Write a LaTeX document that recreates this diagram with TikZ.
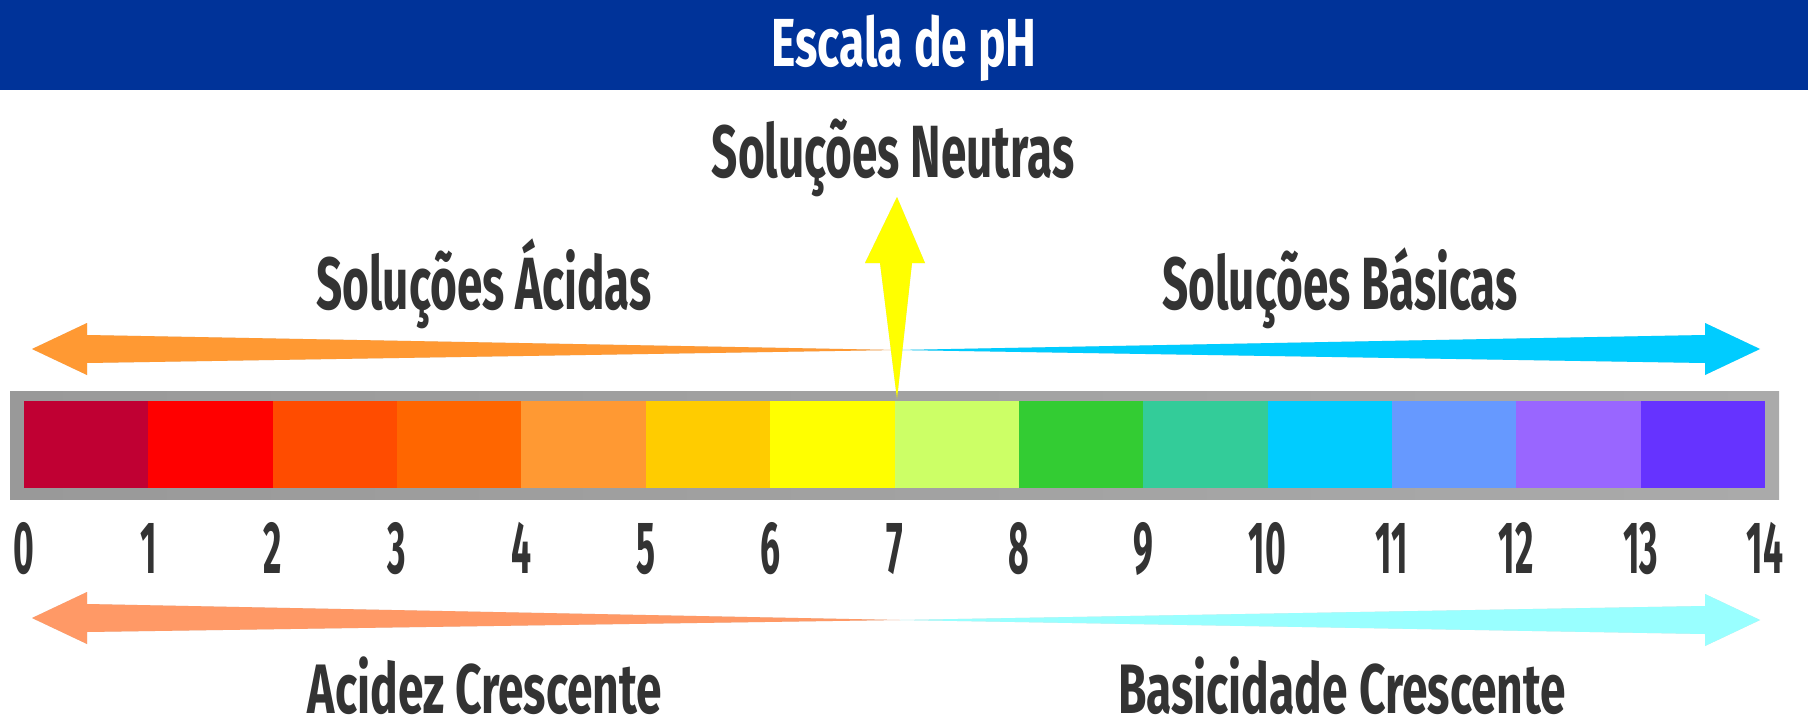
\documentclass[tikz,border=0pt]{standalone}
\usepackage{fontspec}
\setmainfont{Fira Sans}[FakeStretch=0.62]
\newfontfamily\titlefont{Fira Sans}[FakeStretch=0.68]
\newfontfamily\lowfont{Fira Sans}[FakeStretch=0.66]
\newfontfamily\numfont{Fira Sans}[FakeStretch=0.48]
\usetikzlibrary{calc}

\definecolor{headblue}{HTML}{003399}
\definecolor{txtgray}{HTML}{333333}
\definecolor{acidtop}{HTML}{FF9933}
\definecolor{basetop}{HTML}{00CCFF}
\definecolor{acidbot}{HTML}{FF9966}
\definecolor{basebot}{HTML}{99FFFF}
\definecolor{neutral}{HTML}{FFFF00}
\definecolor{framel}{HTML}{999999}
\definecolor{framem}{HTML}{96BEC0}
\definecolor{framer}{HTML}{AAAAAA}
% pH colours, 0 to 13
\definecolor{ph0}{HTML}{C00033}
\definecolor{ph1}{HTML}{FF0000}
\definecolor{ph2}{HTML}{FF4C00}
\definecolor{ph3}{HTML}{FF6600}
\definecolor{ph4}{HTML}{FF9933}
\definecolor{ph5}{HTML}{FFCC00}
\definecolor{ph6}{HTML}{FFFF00}
\definecolor{ph7}{HTML}{CCFF66}
\definecolor{ph8}{HTML}{33CC33}
\definecolor{ph9}{HTML}{33CC99}
\definecolor{ph10}{HTML}{00CCFF}
\definecolor{ph11}{HTML}{6699FF}
\definecolor{ph12}{HTML}{9966FF}
\definecolor{ph13}{HTML}{6633FF}

% tip, meeting point, signed head length, style
\newcommand{\sidearrow}[4]{%
  \fill[#4] (#1) -- ($(#1)+(#3,-26)$) -- ($(#1)+(#3,-14)$) -- (#2)
    -- ($(#1)+(#3,14)$) -- ($(#1)+(#3,26)$) -- cycle;}

\begin{document}
\begin{tikzpicture}[x=1pt,y=-1pt,
    every node/.style={inner sep=0pt,text=txtgray},
    phlabel/.style={anchor=base,font=\fontsize{74}{74}\selectfont\bfseries},
    lowlabel/.style={anchor=base,font=\lowfont\fontsize{70}{70}\selectfont\bfseries},
    phnum/.style={anchor=base,font=\numfont\fontsize{74}{74}\selectfont\bfseries},
    cell/.style={minimum width=124.36pt,minimum height=87pt},
    shadow/.style={fill=black,opacity=.13,shift={(3,7)}}]

\useasboundingbox[fill=white] (0,0) rectangle (1808,728);

% header
\fill[headblue] (0,0) rectangle (1808,90);
\node[anchor=base,text=white,font=\titlefont\fontsize{68}{68}\selectfont\bfseries]
    (title) at (904,66) {Escala de pH};

% labels
\node[phlabel] (neutral) at (893,177) {Soluções Neutras};
\node[phlabel] (acids) at (484,309) {Soluções Ácidas};
\node[phlabel] (bases) at (1340,309) {Soluções Básicas};
\node[lowlabel] (acidup) at (485,713) {Acidez Crescente};
\node[lowlabel] (baseup) at (1342,713) {Basicidade Crescente};

% arrow ends
\coordinate (meettop) at (897,350);
\coordinate (meetbot) at (900,620);
\coordinate (acidtip) at (32,349);
\coordinate (basetip) at (1760,349);
\coordinate (acidtip2) at (32,618);
\coordinate (basetip2) at (1760,620);
\coordinate (neutraltip) at (897,197);
\coordinate (neutralfoot) at (897,399);

% top arrows
\sidearrow{acidtip}{meettop}{55}{shadow}
\sidearrow{basetip}{meettop}{-55}{shadow}
\sidearrow{acidtip}{meettop}{55}{acidtop}
\sidearrow{basetip}{meettop}{-55}{basetop}

% bottom arrows
\sidearrow{acidtip2}{meetbot}{55}{shadow}
\sidearrow{basetip2}{meetbot}{-55}{shadow}
\sidearrow{acidtip2}{meetbot}{55}{acidbot}
\sidearrow{basetip2}{meetbot}{-55}{basebot}

% scale bar
\shade[left color=framel,middle color=framem,right color=framer]
    (10,391) rectangle (1779,499);
\foreach \i in {0,...,13}
  \node[cell,fill=ph\i] (c\i) at ({86.18+\i*124.36},444.5) {};
\foreach \i in {0,...,14}
  \node[phnum] (n\i) at ({24+\i*124.36},573) {\i};

% neutral arrow
\begin{scope}[shadow]
\fill (neutraltip) -- ++(28,66) -- ++(-13,0) -- (neutralfoot)
    -- ($(neutraltip)+(-17,66)$) -- ++(-15,0) -- cycle;
\end{scope}
\fill[neutral] (neutraltip) -- ++(28,66) -- ++(-13,0) -- (neutralfoot)
    -- ($(neutraltip)+(-17,66)$) -- ++(-15,0) -- cycle;

\end{tikzpicture}
\end{document}
